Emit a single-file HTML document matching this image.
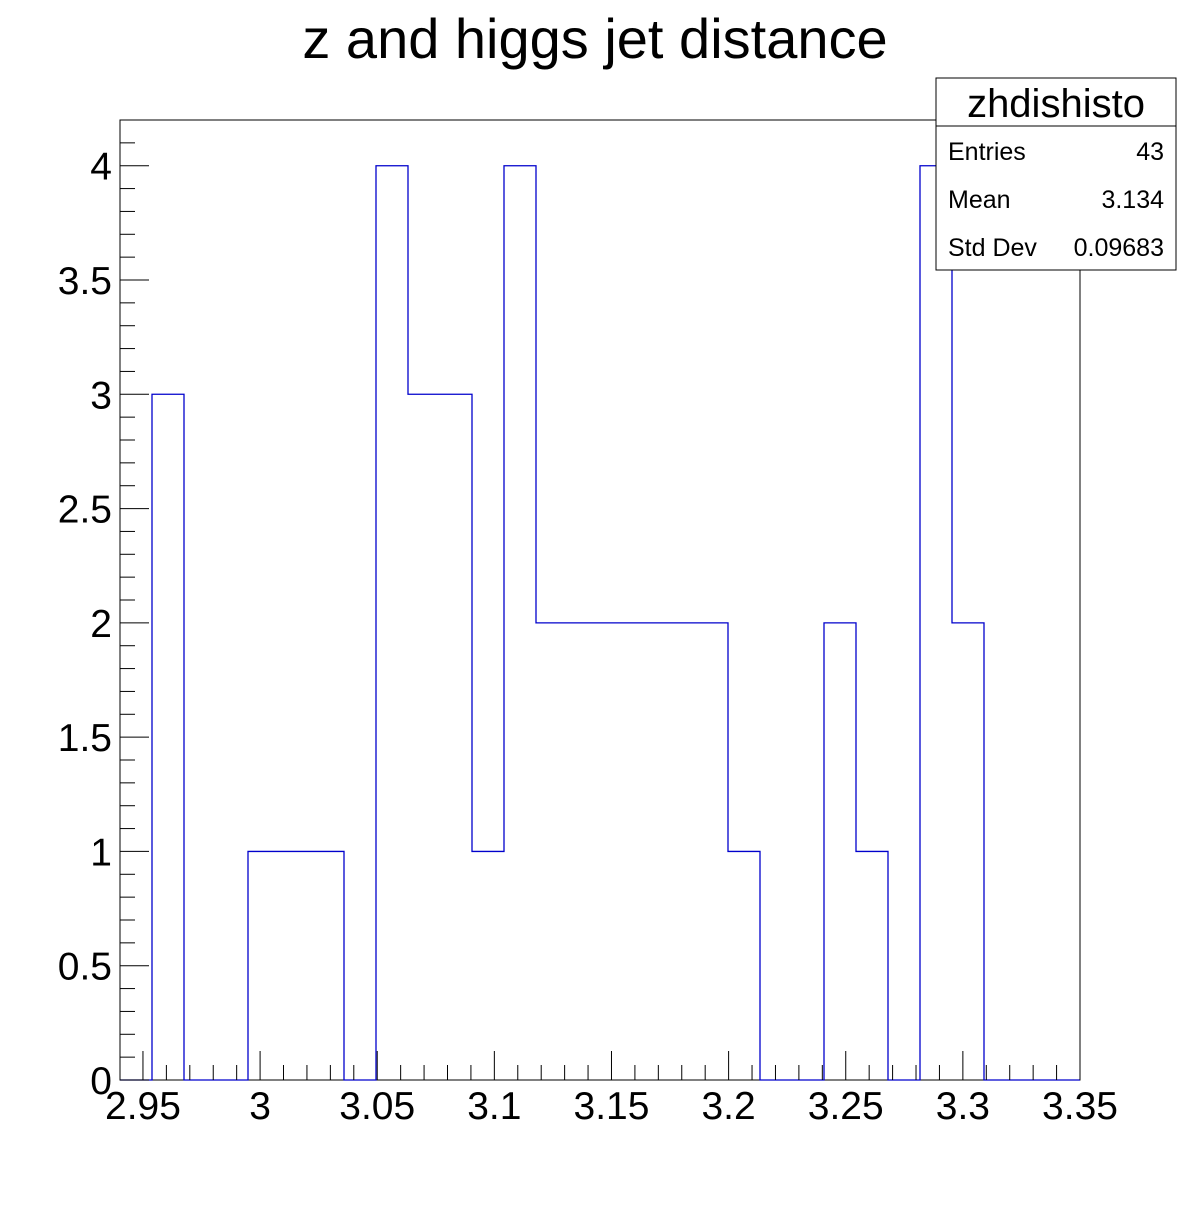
<!DOCTYPE html>
<html><head><meta charset="utf-8"><style>
body{margin:0;background:#fff}
svg text{font-family:"Liberation Sans",sans-serif}
</style></head><body>
<svg id="c" width="1200" height="1200" xmlns="http://www.w3.org/2000/svg">
<rect width="1200" height="1200" fill="#fff"/>
<text x="595" y="58" font-size="56" text-anchor="middle">z and higgs jet distance</text>
<rect x="120" y="120" width="960" height="960" fill="none" stroke="#000" stroke-width="1"/>
<g id="hist"></g>
<g id="axes"></g>
<g>
<rect x="936" y="78" width="240" height="192" fill="#fff" stroke="#000"/>
<line x1="936" y1="126" x2="1176" y2="126" stroke="#000"/>
<text x="1056" y="117" font-size="40" text-anchor="middle">zhdishisto</text>
<text x="948" y="160" font-size="25">Entries</text>
<text x="1164" y="160" font-size="25" text-anchor="end">43</text>
<text x="948" y="208" font-size="25">Mean</text>
<text x="1164" y="208" font-size="25" text-anchor="end">3.134</text>
<text x="948" y="256" font-size="25">Std Dev</text>
<text x="1164" y="256" font-size="25" text-anchor="end">0.09683</text>
</g>
</svg>
<script>
const counts=[0,3,0,0,1,1,1,0,4,3,3,1,4,2,2,2,2,2,2,1,0,0,2,1,0,4,2,0,0,0];
const xMin=2.9402, xMax=3.35, yMin=0, yMax=4.2;
const xTicks=["2.95","3","3.05","3.1","3.15","3.2","3.25","3.3","3.35"];
const yTicks=["0","0.5","1","1.5","2","2.5","3","3.5","4"];
const L=120,R=1080,T=120,B=1080;
const sx=v=>L+(v-xMin)/(xMax-xMin)*(R-L);
const sy=v=>B-(v-yMin)/(yMax-yMin)*(B-T);
const NS="http://www.w3.org/2000/svg";
const bw=(xMax-xMin)/counts.length;
let d="M"+sx(xMin)+","+sy(0);
counts.forEach((c,i)=>{const x0=sx(xMin+i*bw),x1=sx(xMin+(i+1)*bw);d+=" L"+x0+","+sy(c)+" L"+x1+","+sy(c);});
d+=" L"+sx(xMax)+","+sy(0);
const p=document.createElementNS(NS,"path");
p.setAttribute("d",d);p.setAttribute("fill","none");p.setAttribute("stroke","#0000cc");p.setAttribute("stroke-width","1.3");


document.getElementById("hist").appendChild(p);
const ax=document.getElementById("axes");
function ln(x1,y1,x2,y2){const l=document.createElementNS(NS,"line");l.setAttribute("x1",x1);l.setAttribute("y1",y1);l.setAttribute("x2",x2);l.setAttribute("y2",y2);l.setAttribute("stroke","#000");ax.appendChild(l);return l;}
function tx(x,y,s,a){const t=document.createElementNS(NS,"text");t.setAttribute("x",x);t.setAttribute("y",y);t.setAttribute("font-size","39");t.setAttribute("text-anchor",a);t.textContent=s;ax.appendChild(t);return t;}
for(let k=0;k<=41;k++){const v=2.94+k*0.01;if(v<xMin-1e-9||v>xMax+1e-9)continue;const maj=Math.abs(v*20-Math.round(v*20))<1e-6;const l=ln(sx(v),B,sx(v),B-(maj?29:15));}
xTicks.forEach(s=>{const t=tx(sx(parseFloat(s)),1119,s,"middle");});
for(let k=0;k<=42;k++){const v=k*0.1;const maj=k%5===0;const l=ln(L,sy(v),L+(maj?29:15),sy(v));}
yTicks.forEach(s=>{const t=tx(112,sy(parseFloat(s))+14,s,"end");});
</script>
</body></html>
